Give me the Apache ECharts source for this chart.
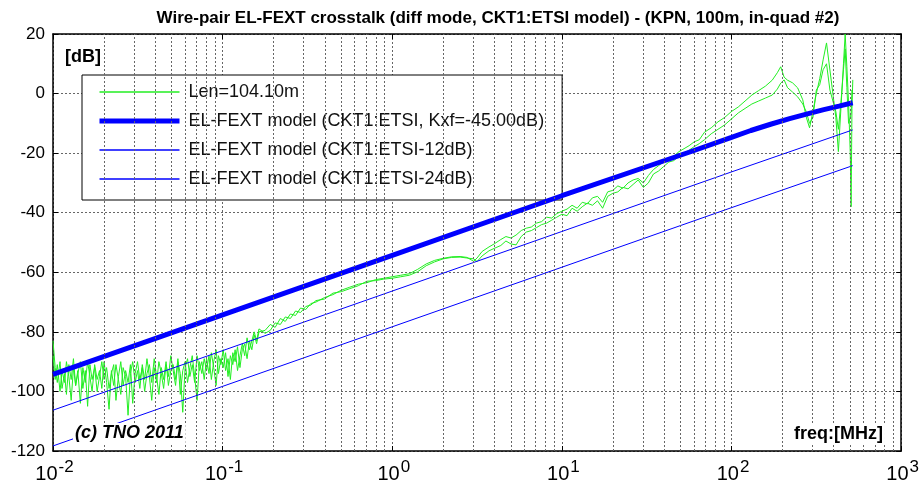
<!DOCTYPE html>
<html>
<head>
<meta charset="utf-8">
<script src="https://cdn.jsdelivr.net/npm/echarts@6/dist/echarts.min.js"></script>
<style>
  html, body { margin: 0; padding: 0; background: #fff; }
  #chart { width: 922px; height: 496px; }
</style>
</head>
<body>
<div id="chart"></div>
<script>
// frequencies in MHz, levels in dB
var freqLow = [0.0100, 0.0103, 0.0106, 0.0110, 0.0113, 0.0117, 0.0120, 0.0124, 0.0128, 0.0132,
  0.0136, 0.0140, 0.0145, 0.0150, 0.0155, 0.0160, 0.0165, 0.0170, 0.0176, 0.0182,
  0.0188, 0.0194, 0.0200, 0.0207, 0.0214, 0.0221, 0.0228, 0.0235, 0.0243, 0.0251,
  0.0259, 0.0268, 0.0277, 0.0286, 0.0295, 0.0305, 0.0315, 0.0325, 0.0336, 0.0347,
  0.0358, 0.0370, 0.0382, 0.0395, 0.0408, 0.0421, 0.0435, 0.0449, 0.0464, 0.0479,
  0.0495, 0.0511, 0.0528, 0.0545, 0.0563, 0.0582, 0.0601, 0.0621, 0.0641, 0.0662,
  0.0684, 0.0707, 0.0730, 0.0754, 0.0779, 0.0804, 0.0831, 0.0858, 0.0886, 0.0915,
  0.0945, 0.0976, 0.1008, 0.1041, 0.1076, 0.1111, 0.1148, 0.1185, 0.1224, 0.1265,
  0.1306, 0.1349, 0.1393, 0.1439, 0.1487, 0.1535, 0.1586, 0.1638];
var lowA = [-83, -92, -97, -90, -99, -94, -101, -91, -96, -89, -98, -93, -104, -92, -97, -90, -95, -100, -91, -96, -93, -99,
  -90, -97, -106, -93, -98, -91, -96, -101, -92, -95, -108, -94, -90, -97,
  -93, -99, -91, -96, -89, -95, -103, -92, -97, -90, -94, -99, -91, -95, -88,
  -93, -98, -90, -94, -107, -92, -89, -95, -91, -97, -88, -93, -90, -96,
  -89, -94, -87, -92, -98, -88, -91, -86, -93, -89, -96, -87, -90, -85, -92,
  -86, -84, -89, -83, -86, -81, -84, -80];
var lowB = [-88, -96, -91, -100, -93, -97, -90, -95, -103, -92, -98, -94, -90, -99, -93, -105, -91, -96, -92, -100, -95, -90,
  -96, -92, -99, -94, -91, -103, -95, -90, -98, -93, -97, -91, -104, -94,
  -90, -96, -92, -100, -94, -91, -97, -89, -95, -101, -92, -96, -90, -98, -93,
  -91, -96, -89, -101, -93, -90, -97, -92, -88, -95, -103, -90, -94, -89,
  -93, -88, -96, -90, -86, -94, -89, -92, -87, -95, -88, -91, -86, -93, -88,
  -84, -88, -82, -86, -83, -80, -83, -79];

var freqMid = [0.178, 0.191, 0.204, 0.219, 0.234, 0.251, 0.269, 0.288, 0.309, 0.331,
  0.355, 0.398, 0.447, 0.501, 0.562, 0.631, 0.708, 0.794, 0.891, 1.0,
  1.122, 1.259, 1.413, 1.585, 1.778, 1.995, 2.239, 2.512, 2.754, 3.020,
  3.162, 3.388, 3.715, 3.981, 4.365, 4.677, 5.012, 5.370, 5.754, 6.166,
  6.607, 7.079, 7.586, 8.128, 8.710, 9.333, 10.0, 10.72, 11.48, 12.30,
  13.18, 14.13, 15.14, 16.22, 17.38, 18.62, 19.95, 21.38, 22.91, 24.55,
  26.30, 28.18, 30.20, 32.36, 34.67, 37.15, 39.81, 42.66, 45.71, 48.98,
  52.48, 56.23, 60.26, 64.57];
var midA = [-79.5, -77.5, -78.5, -75.5, -76.5, -74, -74.5, -72, -72.5, -70.5,
  -70, -68.5, -67.5, -66, -65, -64, -63.5, -62.5, -62, -61.5,
  -61, -60.5, -59, -57.2, -56, -55.3, -54.8, -54.7, -55, -56.3,
  -55.2, -53, -51.5, -50.5, -49, -48, -48.5, -47.5, -46, -45.2,
  -44.8, -43.5, -43, -41.5, -41.8, -40.3, -39.5, -38.8, -37.5, -38.5,
  -36.5, -37, -35, -34.5, -36.5, -33, -32.5, -31, -31.8, -30,
  -29, -28.5, -30, -27.5, -25.5, -24.2, -23, -21.8, -21, -19.5,
  -18.5, -17.5, -16.2, -15.5];
var midB = [-80.5, -79.5, -77, -77.5, -75, -75.5, -73, -73.5, -71.5, -71,
  -69.5, -69, -67, -66.5, -65.5, -64.5, -63, -62.8, -62.3, -62,
  -61.5, -61, -59.8, -57.8, -56.5, -55.5, -55, -54.9, -55.2, -55.5,
  -56.4, -54.5, -52.8, -52, -51, -49.5, -50.5, -50.8, -48, -46.5,
  -46, -45, -44, -43.5, -42.5, -41.5, -40.5, -41, -38.5, -39.5,
  -38, -36.8, -37.5, -36, -38.5, -34.5, -33.5, -33, -31.5, -32,
  -30.5, -29, -31.5, -30, -27, -26, -24.5, -23, -22.5, -21,
  -20, -19, -17.8, -16.8];

var freqHigh = [69.2, 75.9, 83.2, 91.2, 100, 109.6, 120.2, 131.8, 144.5, 158.5,
  173.8, 186.2, 195.0, 204.2, 213.8, 229.1, 245.5, 263.0, 275.4, 288.4,
  302.0, 316.2, 331.1, 346.7, 363.1, 380.2, 398.1, 412.1, 426.6, 441.6,
  457.1, 467.7, 478.6, 489.8, 501.2, 507.0, 512.9, 518.8];
var highA = [-13, -11.5, -9.5, -8, -6, -4.5, -2.5, -0.5, 1, 2.5,
  4.5, 7, 9, 5.5, 4.5, 3.6, 1.9, -2.1, -7.8, -11.5,
  -6, 0, 5, 11.3, 17, 7.9, -1.1, -8, -19.5, -5,
  10, 20, 9, -3, -20, -38, -5, 4.6];
var highB = [-15.5, -13.5, -12, -10.5, -8.5, -6.5, -5, -3.5, -2.5, -1.5,
  -0.5, 1.5, 3.5, 4.6, 2, 0.5, -1.1, -3.5, -6, -10,
  -8, 1.2, 3, 8, 10, 1.2, -3, -6, -12, -3,
  8, 15, 2, -10, -8, -6.5, 1.2, 0];

// EL-FEXT model lines
var modelFreq = [0.01, 0.1, 1, 10, 56.2, 100, 130, 170, 220, 280, 350, 430, 518];
var modelDb = [-94.3, -74.3, -54.3, -34.3, -19.7, -14.7, -12.4, -10.3, -8.4, -6.8, -5.4, -4.2, -3.1];
var model12Freq = [0.01, 0.1, 1, 10, 100, 518];
var model12Db = [-106.3, -86.3, -66.3, -46.3, -26.3, -12.2];
var model24Freq = [0.01, 0.1, 1, 10, 100, 518];
var model24Db = [-118.3, -98.3, -78.3, -58.3, -38.3, -24.2];

var minorFreqs = [0.02, 0.03, 0.04, 0.05, 0.06, 0.07, 0.08, 0.09,
  0.2, 0.3, 0.4, 0.5, 0.6, 0.7, 0.8, 0.9,
  2, 3, 4, 5, 6, 7, 8, 9,
  20, 30, 40, 50, 60, 70, 80, 90,
  200, 300, 400, 500, 600, 700, 800, 900];

var legendNames = ['Len=104.10m', 'EL-FEXT model (CKT1:ETSI, Kxf=-45.00dB)',
  'EL-FEXT model (CKT1:ETSI-12dB)', 'EL-FEXT model (CKT1:ETSI-24dB)'];

function pairs(xs, ys) {
  var out = [];
  for (var i = 0; i < xs.length; i++) out.push([xs[i], ys[i]]);
  return out;
}

var traceA = pairs(freqLow.concat(freqMid, freqHigh), lowA.concat(midA, highA));
var traceB = pairs(freqLow.concat(freqMid, freqHigh), lowB.concat(midB, highB));

var FONT = '"Liberation Sans", Arial, sans-serif';
var GREEN = '#22ee22';
var BLUE = '#0000ff';
var gridLine = { show: true, lineStyle: { color: '#666', type: [2, 2], width: 1 } };

var chart = echarts.init(document.getElementById('chart'));

function xAx(pos, labels) {
  return {
    type: 'log', logBase: 10, min: 0.01, max: 1000, position: pos,
    axisLine: { show: true, onZero: false, lineStyle: { color: '#000', width: 1.5 } },
    axisTick: { show: true, inside: true, length: 5, lineStyle: { color: '#000' } },
    splitLine: labels ? gridLine : { show: false },
    axisLabel: labels ? {
      show: true, margin: 8, padding: [0, 0, 0, 3],
      formatter: function (v) {
        var e = Math.round(Math.log10(v));
        return '{b|10}{e|' + e + '}';
      },
      rich: {
        b: { fontSize: 20, lineHeight: 30, color: '#000', fontFamily: FONT },
        e: { fontSize: 17, lineHeight: 17, color: '#000', fontFamily: FONT, verticalAlign: 'top', padding: [0, 0, 0, 1] }
      }
    } : { show: false }
  };
}

function yAx(pos, labels) {
  return {
    type: 'value', min: -120, max: 20, interval: 20, position: pos,
    axisLine: { show: true, onZero: false, lineStyle: { color: '#000', width: 1.5 } },
    axisTick: { show: true, inside: true, length: 5, lineStyle: { color: '#000' } },
    splitLine: labels ? gridLine : { show: false },
    axisLabel: labels ? { show: true, fontSize: 17, color: '#000', fontFamily: FONT, margin: 8 } : { show: false }
  };
}

function txt(x, y, text, font, align) {
  return {
    type: 'text', x: x, y: y, z: 100,
    style: {
      text: text, font: font, fill: '#000',
      textAlign: align || 'left', textVerticalAlign: 'middle',
      backgroundColor: '#fff', padding: [1, 2, 1, 2]
    }
  };
}

chart.setOption({
  animation: false,
  backgroundColor: '#fff',
  grid: { left: 53, right: 16, top: 34, bottom: 45, show: false },
  xAxis: [xAx('bottom', true), xAx('top', false)],
  yAxis: [yAx('left', true), yAx('right', false)],
  legend: {
    data: [
      { name: legendNames[0], lineStyle: { width: 1.5 } },
      { name: legendNames[1], lineStyle: { width: 5 } },
      { name: legendNames[2], lineStyle: { width: 1.5 } },
      { name: legendNames[3], lineStyle: { width: 1.5 } }
    ],
    orient: 'vertical', left: 82, top: 75,
    backgroundColor: '#fff', borderColor: '#000', borderWidth: 1, borderRadius: 0,
    padding: [8, 18, 12, 15], itemWidth: 80, itemHeight: 12, itemGap: 11,
    itemStyle: { opacity: 0 },
    textStyle: { fontSize: 18, color: '#111', fontFamily: FONT, padding: [0, 0, 0, 4] },
    selectedMode: false
  },
  graphic: [
    txt(498, 18, 'Wire-pair EL-FEXT crosstalk (diff mode, CKT1:ETSI model) - (KPN, 100m, in-quad #2)', 'bold 17px ' + FONT, 'center'),
    txt(63, 57, '[dB]', 'bold 18px ' + FONT),
    txt(73, 433, '(c) TNO 2011', 'italic bold 18px ' + FONT),
    txt(792, 434, 'freq:[MHz]', 'bold 18px ' + FONT)
  ],
  series: [
    {
      name: 'minor', type: 'line', data: [], z: 1, silent: true,
      markLine: {
        silent: true, symbol: ['none', 'none'], label: { show: false },
        lineStyle: { color: '#666', type: [2, 2], width: 1 },
        data: minorFreqs.map(function (f) { return { xAxis: f }; })
      }
    },
    { name: legendNames[0], type: 'line', data: traceA, symbol: 'none', z: 3,
      lineStyle: { color: GREEN, width: 1 }, itemStyle: { color: GREEN } },
    { name: legendNames[0], type: 'line', data: traceB, symbol: 'none', z: 3,
      lineStyle: { color: GREEN, width: 1 }, itemStyle: { color: GREEN } },
    { name: legendNames[1], type: 'line', data: pairs(modelFreq, modelDb), symbol: 'none', z: 4,
      lineStyle: { color: BLUE, width: 5 }, itemStyle: { color: BLUE } },
    { name: legendNames[2], type: 'line', data: pairs(model12Freq, model12Db), symbol: 'none', z: 4,
      lineStyle: { color: BLUE, width: 1 }, itemStyle: { color: BLUE } },
    { name: legendNames[3], type: 'line', data: pairs(model24Freq, model24Db), symbol: 'none', z: 4,
      lineStyle: { color: BLUE, width: 1 }, itemStyle: { color: BLUE } }
  ]
});
</script>
</body>
</html>
